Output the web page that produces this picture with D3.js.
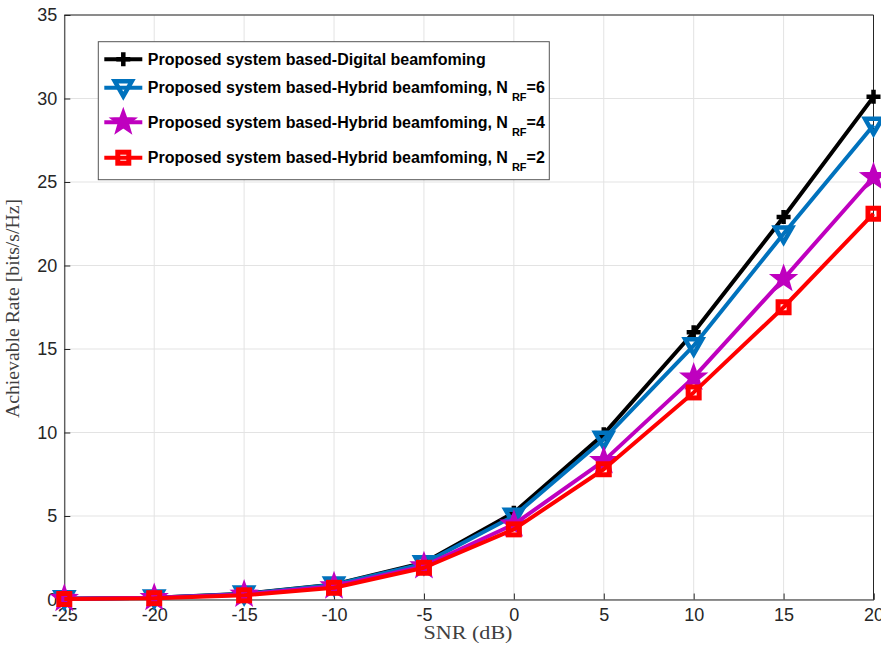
<!DOCTYPE html>
<html>
<head>
<meta charset="utf-8">
<script src="https://cdn.jsdelivr.net/npm/d3@7"></script>
<style>
  body { margin: 0; background: #fff; }
  .tick text { font-family: "Liberation Sans", Arial, sans-serif; font-size: 18px; fill: #262626; }
  .legend text { font-family: "Liberation Sans", Arial, sans-serif; font-weight: bold; font-size: 16px; fill: #000; }
</style>
</head>
<body>
<div id="chart"></div>
<script>
const snr = [-25, -20, -15, -10, -5, 0, 5, 10, 15, 20];
const digital = [0.05, 0.1, 0.35, 0.9, 2.2, 5.2, 9.9, 16.0, 22.9, 30.1];
const hybrid6 = [0.05, 0.1, 0.33, 0.88, 2.15, 5.0, 9.6, 15.2, 21.9, 28.4];
const hybrid4 = [0.05, 0.1, 0.3, 0.8, 2.0, 4.5, 8.3, 13.3, 19.2, 25.3];
const hybrid2 = [0.03, 0.08, 0.25, 0.7, 1.9, 4.2, 7.8, 12.4, 17.5, 23.1];
const xTicks = [-25, -20, -15, -10, -5, 0, 5, 10, 15, 20];
const yTicks = [0, 5, 10, 15, 20, 25, 30, 35];

const series = [
  {name: "Proposed system based-Digital beamfoming", sub: null, values: digital, color: "#000000", marker: "plus"},
  {name: "Proposed system based-Hybrid beamfoming, N", sub: "RF", tail: "=6", values: hybrid6, color: "#0072BD", marker: "tri"},
  {name: "Proposed system based-Hybrid beamfoming, N", sub: "RF", tail: "=4", values: hybrid4, color: "#BF00BF", marker: "star"},
  {name: "Proposed system based-Hybrid beamfoming, N", sub: "RF", tail: "=2", values: hybrid2, color: "#FF0000", marker: "square"}
];

const W = 881, H = 646;
const margin = {top: 15, right: 7.5, bottom: 46.5, left: 64.3};
const width = W - margin.left - margin.right;
const height = H - margin.top - margin.bottom;

const svg = d3.select("#chart").append("svg")
  .attr("width", W).attr("height", H)
  .append("g")
  .attr("transform", `translate(${margin.left},${margin.top})`);

const x = d3.scaleLinear().domain([-25, 20]).range([0, width]);
const y = d3.scaleLinear().domain([0, 35]).range([height, 0]);

// grid
svg.append("g").selectAll("line").data(xTicks).join("line")
  .attr("x1", d => x(d)).attr("x2", d => x(d)).attr("y1", 0).attr("y2", height)
  .attr("stroke", "#e3e3e3").attr("stroke-width", 1);
svg.append("g").selectAll("line").data(yTicks).join("line")
  .attr("x1", 0).attr("x2", width).attr("y1", d => y(d)).attr("y2", d => y(d))
  .attr("stroke", "#e3e3e3").attr("stroke-width", 1);

// axes
const xAxis = svg.append("g").attr("transform", `translate(0,${height})`)
  .call(d3.axisBottom(x).tickValues(xTicks).tickSize(-6).tickPadding(9).tickFormat(d => String(d)));
const yAxis = svg.append("g")
  .call(d3.axisLeft(y).tickValues(yTicks).tickSize(-6).tickPadding(7).tickFormat(d => String(d)));
[xAxis, yAxis].forEach(a => {
  a.select(".domain").attr("stroke", "#262626");
  a.selectAll(".tick line").attr("stroke", "#262626");
});
svg.append("line").attr("x1", 0).attr("x2", width).attr("y1", 0).attr("y2", 0).attr("stroke", "#262626");
svg.append("line").attr("x1", width).attr("x2", width).attr("y1", 0).attr("y2", height).attr("stroke", "#262626");

// axis labels
svg.append("text")
  .attr("x", 468 - margin.left - 44.5).attr("y", height + 39)
  .attr("textLength", 89).attr("lengthAdjust", "spacingAndGlyphs")
  .style("font-family", "'Liberation Serif', 'Times New Roman', serif")
  .style("font-size", "18px").style("fill", "#404040")
  .text("SNR (dB)");
svg.append("text")
  .attr("transform", `translate(${-45},${308.5 - margin.top + 109.5}) rotate(-90)`)
  .attr("textLength", 219).attr("lengthAdjust", "spacingAndGlyphs")
  .style("font-family", "'Liberation Serif', 'Times New Roman', serif")
  .style("font-size", "18px").style("fill", "#404040")
  .text("Achievable Rate [bits/s/Hz]");

function drawMarker(g, type, color, cx, cy) {
  if (type === "plus") {
    g.append("path").attr("d", `M${cx - 7},${cy}H${cx + 7}M${cx},${cy - 7}V${cy + 7}`)
      .attr("stroke", color).attr("stroke-width", 4.5).attr("fill", "none");
  } else if (type === "tri") {
    const s = 8.5;
    g.append("path").attr("d", `M${cx - s},${cy - s * 0.75}L${cx + s},${cy - s * 0.75}L${cx},${cy + s * 1.0}Z`)
      .attr("stroke", color).attr("stroke-width", 4.5).attr("fill", "none").attr("stroke-linejoin", "miter");
  } else if (type === "star") {
    const pts = [];
    for (let i = 0; i < 10; i++) {
      const r = i % 2 === 0 ? 11 : 4.5;
      const a = -Math.PI / 2 + i * Math.PI / 5;
      pts.push([cx + r * Math.cos(a), cy + r * Math.sin(a)]);
    }
    g.append("path").attr("d", "M" + pts.map(p => p.join(",")).join("L") + "Z")
      .attr("stroke", color).attr("stroke-width", 3).attr("fill", color);
  } else if (type === "square") {
    g.append("rect").attr("x", cx - 5.5).attr("y", cy - 5.5).attr("width", 11).attr("height", 11)
      .attr("stroke", color).attr("stroke-width", 5).attr("fill", "none");
  }
}

const line = d3.line().x((d, i) => x(snr[i])).y(d => y(d));

series.forEach(s => {
  const g = svg.append("g");
  g.append("path").datum(s.values).attr("d", line)
    .attr("fill", "none").attr("stroke", s.color).attr("stroke-width", 4).attr("stroke-linejoin", "round");
  s.values.forEach((v, i) => drawMarker(g, s.marker, s.color, x(snr[i]), y(v)));
});

// legend
const lg = svg.append("g").attr("class", "legend").attr("transform", `translate(${98.3 - margin.left},${41.7 - margin.top})`);
lg.append("rect").attr("width", 451).attr("height", 138).attr("fill", "#fff")
  .attr("stroke", "#555").attr("stroke-width", 1);
const rowY = [17.5, 46, 80.5, 116];
series.forEach((s, i) => {
  const yy = rowY[i];
  lg.append("line").attr("x1", 6).attr("x2", 44).attr("y1", yy).attr("y2", yy)
    .attr("stroke", s.color).attr("stroke-width", 4);
  drawMarker(lg, s.marker, s.color, 25, yy);
  const t = lg.append("text").attr("x", 49.5).attr("y", yy + 5.5);
  t.append("tspan").text(s.name);
  if (s.sub) {
    t.append("tspan").attr("dx", 4).attr("dy", 8).style("font-size", "11px").text(s.sub);
    t.append("tspan").attr("dy", -8).text(s.tail);
  }
});
</script>
</body>
</html>
